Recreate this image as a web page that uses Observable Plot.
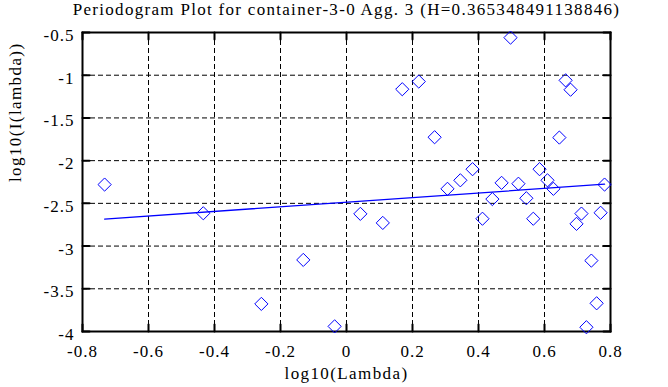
<!DOCTYPE html>
<html>
<head>
<meta charset="utf-8">
<script src="https://cdn.jsdelivr.net/npm/d3@7"></script>
<script src="https://cdn.jsdelivr.net/npm/@observablehq/plot@0.6"></script>
<style>
  html, body { margin: 0; padding: 0; background: #fff; }
  #chart svg { display: block; }
  #chart svg text { font-family: "Liberation Serif", "Times New Roman", serif !important; }
</style>
</head>
<body>
<div id="chart"></div>
<script>
const title = "Periodogram Plot for container-3-0 Agg. 3 (H=0.365348491138846)";
const xLabel = "log10(Lambda)";
const yLabel = "log10(I(lambda))";

const logLambda = [-0.733, -0.434, -0.258, -0.131, -0.036, 0.042, 0.110, 0.169, 0.219, 0.267,
  0.306, 0.345, 0.382, 0.412, 0.442, 0.470, 0.497, 0.521, 0.545, 0.566,
  0.585, 0.609, 0.627, 0.645, 0.664, 0.679, 0.697, 0.712, 0.727, 0.742,
  0.758, 0.770, 0.782];
const logI = [-2.28, -2.616, -3.677, -3.162, -3.94, -2.623, -2.729, -1.164, -1.074, -1.726,
  -2.33, -2.23, -2.10, -2.68, -2.45, -2.26, -0.56, -2.27, -2.44, -2.68,
  -2.10, -2.23, -2.33, -1.73, -1.06, -1.17, -2.74, -2.62, -3.95, -3.17,
  -3.67, -2.61, -2.28];

const fitX = [-0.733, 0.782];
const fitY = [-2.684, -2.276];

const xTicks = [-0.8, -0.6, -0.4, -0.2, 0, 0.2, 0.4, 0.6, 0.8];
const xTickLabels = ["-0.8", "-0.6", "-0.4", "-0.2", "0", "0.2", "0.4", "0.6", "0.8"];
const yTicks = [-4, -3.5, -3, -2.5, -2, -1.5, -1, -0.5];
const yTickLabels = ["-4", "-3.5", "-3", "-2.5", "-2", "-1.5", "-1", "-0.5"];

const points = logLambda.map((x, i) => ({x, y: logI[i]}));
const fit = fitX.map((x, i) => ({x, y: fitY[i]}));
const xTickData = xTicks.map((v, i) => ({v, label: xTickLabels[i]}));
const yTickData = yTicks.map((v, i) => ({v, label: yTickLabels[i]}));

const tickShape = { draw(ctx, l) { ctx.moveTo(0, 0); ctx.lineTo(0, -l); } };
const diamond = {
  draw(ctx, size) {
    const h = Math.sqrt(size / Math.PI) * 1.1;
    ctx.moveTo(0, -h); ctx.lineTo(h, 0); ctx.lineTo(0, h); ctx.lineTo(-h, 0); ctx.closePath();
  }
};

const font = "'Liberation Serif', 'Times New Roman', serif";
const tickStyle = {stroke: "black", strokeWidth: 2, length: 7, anchor: "start", shape: tickShape};
const txt = {fontSize: 17, fill: "black", fontFamily: font, lineAnchor: "middle"};

const chart = Plot.plot({
  width: 668,
  height: 387,
  marginLeft: 82,
  marginRight: 58,
  marginTop: 32,
  marginBottom: 56,
  style: {fontFamily: font, background: "white", color: "black"},
  x: {domain: [-0.8, 0.8], axis: null},
  y: {domain: [-4, -0.5], axis: null},
  marks: [
    Plot.gridX(xTicks.slice(1, -1), {stroke: "black", strokeOpacity: 1, strokeWidth: 1, strokeDasharray: "5,3"}),
    Plot.gridY(yTicks.slice(1, -1), {stroke: "black", strokeOpacity: 1, strokeWidth: 1, strokeDasharray: "5,3"}),
    Plot.vector(xTicks, {x: d => d, frameAnchor: "bottom", rotate: 0, ...tickStyle}),
    Plot.vector(xTicks, {x: d => d, frameAnchor: "top", rotate: 180, ...tickStyle}),
    Plot.vector(yTicks, {y: d => d, frameAnchor: "left", rotate: 90, ...tickStyle}),
    Plot.vector(yTicks, {y: d => d, frameAnchor: "right", rotate: -90, ...tickStyle}),
    Plot.frame({stroke: "black", strokeWidth: 2}),
    Plot.line(fit, {x: "x", y: "y", stroke: "#0000ff", strokeWidth: 1.3}),
    Plot.dot(points, {x: "x", y: "y", symbol: diamond, r: 6, stroke: "#0000ff", strokeWidth: 1, fill: "none"}),
    Plot.text(xTickData, {x: "v", text: "label", frameAnchor: "bottom", dy: 20, ...txt, className: "ls1"}),
    Plot.text(yTickData, {y: "v", text: "label", frameAnchor: "left", dx: -8, dy: 3, textAnchor: "end", ...txt, className: "ls1"}),
    Plot.text([xLabel], {frameAnchor: "bottom", dy: 41.6, ...txt, className: "ls14"}),
    Plot.text([yLabel], {frameAnchor: "left", dx: -67, rotate: -90, ...txt, className: "ls14"}),
    Plot.text([title], {frameAnchor: "top", dy: -23.4, ...txt, className: "ls13"})
  ]
});

d3.select(chart).selectAll(".ls1 text").style("letter-spacing", "1px");
d3.select(chart).selectAll(".ls13 text").style("letter-spacing", "1.3px");
d3.select(chart).selectAll(".ls14 text").style("letter-spacing", "1.4px");
document.getElementById("chart").appendChild(chart);
</script>
</body>
</html>
